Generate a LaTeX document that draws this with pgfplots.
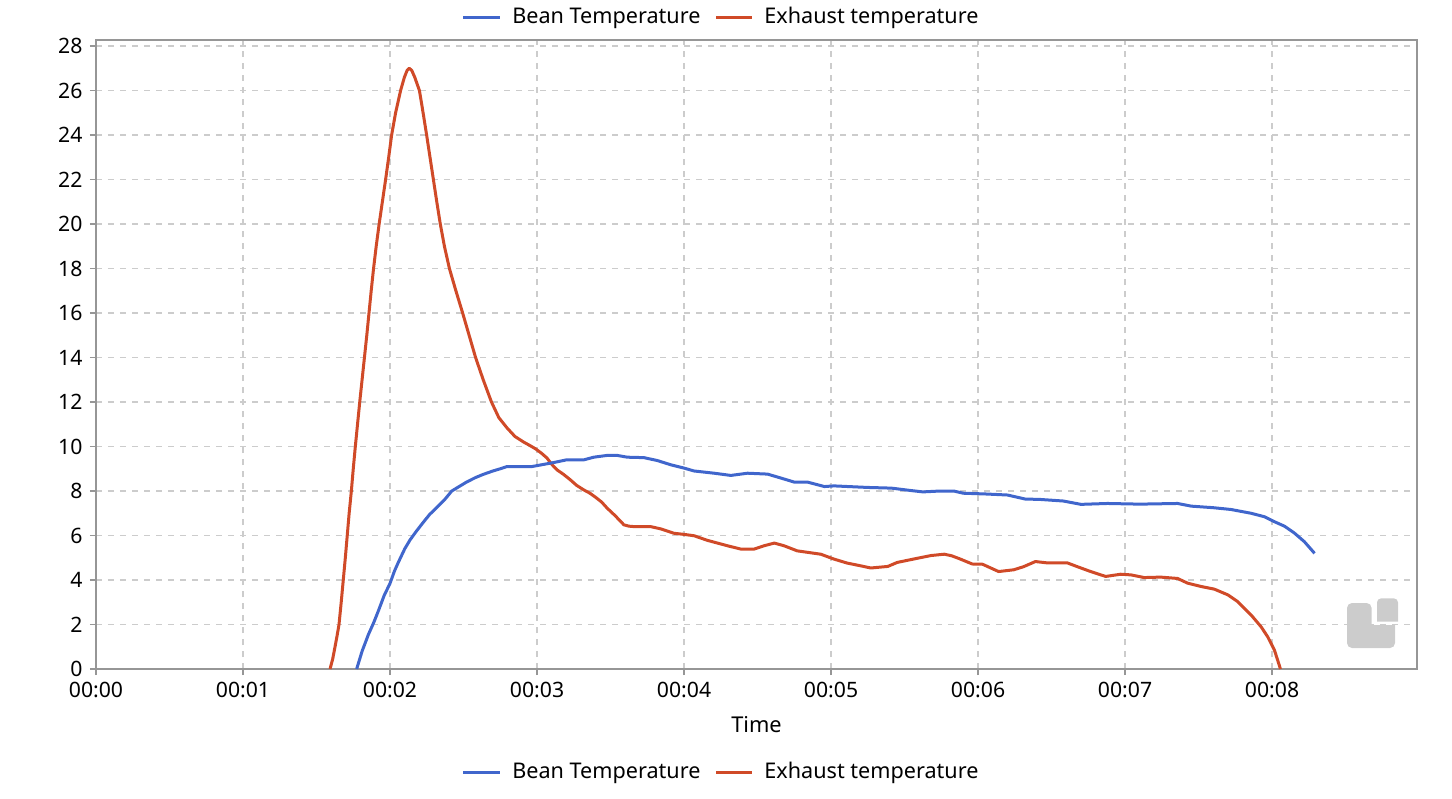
\documentclass[border=0pt]{standalone}
\usepackage{pgfplots}
\pgfplotsset{compat=1.18}
\usepackage{fontspec}
\setmainfont{Noto Sans}
\definecolor{bean}{RGB}{64,102,204}
\definecolor{exh}{RGB}{208,74,40}
\definecolor{gridc}{RGB}{204,204,204}
\definecolor{axc}{RGB}{150,150,150}
\begin{document}
\fontsize{10.8bp}{13bp}\selectfont
\begin{tikzpicture}[x=1bp,y=1bp]
\begin{axis}[
  at={(0,0)}, anchor=south west,
  scale only axis, width=660.5bp, height=314.5bp,
  xmin=0, xmax=8.986, ymin=0, ymax=28.27,
  xtick={0,1,2,3,4,5,6,7,8},
  xticklabels={00:00,00:01,00:02,00:03,00:04,00:05,00:06,00:07,00:08},
  ytick={0,2,...,28},
  /pgf/number format/assume math mode=true,
  tick pos=left, tick align=outside, major tick length=3bp,
  tick style={color=axc, line width=0.7bp},
  grid=major,
  grid style={dash pattern=on 3bp off 3bp, color=gridc, line width=0.6bp},
  axis line style={color=axc, line width=0.8bp},
  ticklabel style={font=\fontsize{10.6bp}{12.6bp}\selectfont, text=black},
  xlabel={Time},
  xlabel style={at={(axis description cs:0.5,0)}, anchor=base, yshift=-31.5bp, font=\fontsize{10.9bp}{13bp}\selectfont},
  clip=true,
]
\addplot[exh, line width=1.5bp, line join=round] coordinates {
(1.592,0) (1.61,0.45) (1.626,1.0) (1.64,1.5) (1.653,2.0) (1.668,3.0) (1.682,4.0) (1.696,5.0) (1.709,6.0) (1.722,7.0) (1.737,8.0) (1.75,9.0) (1.764,10.0) (1.779,11.0) (1.794,12.0) (1.81,13.0) (1.826,14.0) (1.842,15.0) (1.857,16.0) (1.872,17.0) (1.888,18.0) (1.906,19.0) (1.926,20.0) (1.948,21.0) (1.97,22.0) (1.991,23.0) (2.011,24.0) (2.038,25.0) (2.072,26.0) (2.098,26.6) (2.116,26.9) (2.131,27.0) (2.148,26.9) (2.168,26.6) (2.2,26.0) (2.225,25.0) (2.249,24.0) (2.272,23.0) (2.295,22.0) (2.318,21.0) (2.342,20.0) (2.37,19.0) (2.404,18.0) (2.448,17.0) (2.494,16.0) (2.538,15.0) (2.582,14.0) (2.634,13.0) (2.69,12.0) (2.74,11.3) (2.794,10.85) (2.85,10.45) (2.909,10.2) (2.95,10.05) (2.989,9.9) (3.03,9.7) (3.068,9.48) (3.1,9.2) (3.136,8.95) (3.18,8.75) (3.227,8.5) (3.27,8.25) (3.318,8.05) (3.36,7.9) (3.398,7.72) (3.44,7.5) (3.477,7.23) (3.53,6.9) (3.591,6.48) (3.625,6.42) (3.66,6.4) (3.773,6.4) (3.84,6.3) (3.932,6.1) (4.0,6.05) (4.068,5.99) (4.16,5.78) (4.295,5.54) (4.386,5.39) (4.477,5.39) (4.545,5.54) (4.614,5.66) (4.68,5.54) (4.77,5.31) (4.93,5.16) (5.02,4.94) (5.11,4.76) (5.2,4.64) (5.27,4.54) (5.386,4.61) (5.45,4.79) (5.56,4.94) (5.68,5.1) (5.77,5.16) (5.82,5.09) (5.88,4.94) (5.96,4.72) (6.03,4.71) (6.14,4.38) (6.243,4.46) (6.31,4.6) (6.39,4.83) (6.47,4.77) (6.607,4.77) (6.675,4.6) (6.766,4.38) (6.868,4.16) (6.97,4.26) (7.04,4.23) (7.13,4.11) (7.243,4.13) (7.357,4.07) (7.425,3.86) (7.516,3.71) (7.607,3.59) (7.7,3.33) (7.766,3.03) (7.857,2.43) (7.925,1.9) (7.97,1.45) (8.016,0.85) (8.057,0.0)
};
\addplot[bean, line width=1.5bp, line join=round] coordinates {
(1.773,0) (1.81,0.8) (1.853,1.55) (1.89,2.1) (1.92,2.6) (1.96,3.3) (2.0,3.85) (2.03,4.4) (2.057,4.8) (2.1,5.4) (2.136,5.8) (2.18,6.2) (2.227,6.6) (2.27,6.95) (2.317,7.25) (2.37,7.6) (2.42,8.0) (2.47,8.2) (2.52,8.4) (2.58,8.6) (2.635,8.75) (2.7,8.9) (2.75,9.0) (2.795,9.1) (2.966,9.1) (3.114,9.28) (3.2,9.4) (3.318,9.4) (3.386,9.52) (3.477,9.6) (3.545,9.6) (3.614,9.52) (3.727,9.5) (3.818,9.37) (3.909,9.18) (4.0,9.03) (4.068,8.9) (4.205,8.8) (4.318,8.7) (4.432,8.8) (4.568,8.76) (4.66,8.58) (4.75,8.4) (4.84,8.4) (4.955,8.2) (5.02,8.23) (5.25,8.16) (5.41,8.13) (5.545,8.02) (5.625,7.96) (5.743,8.0) (5.834,8.0) (5.9,7.9) (6.04,7.87) (6.2,7.82) (6.32,7.64) (6.425,7.62) (6.58,7.55) (6.7,7.4) (6.88,7.44) (7.1,7.41) (7.357,7.44) (7.45,7.32) (7.6,7.25) (7.72,7.17) (7.857,7.0) (7.95,6.84) (8.016,6.62) (8.084,6.42) (8.15,6.12) (8.22,5.72) (8.289,5.2)
};
\end{axis}
% watermark logo
\fill[black!20, rounded corners=2.5bp] (625.5,10.5) -- (625.5,33) -- (637.8,33) [sharp corners] -- (637.8,22) -- (649.5,22) [rounded corners=2.5bp] -- (649.5,10.5) -- cycle;
\fill[black!20, rounded corners=2bp] (640.5,23.7) -- (640.5,35.3) -- (651,35.3) [sharp corners] -- (651,23.7) -- cycle;
% top legend
\draw[bean, line width=1.5bp] (183.5,326) -- (202,326);
\node[anchor=base west, inner sep=0] at (208,322.9) {Bean Temperature};
\draw[exh, line width=1.5bp] (310,326) -- (328,326);
\node[anchor=base west, inner sep=0] at (334,322.9) {Exhaust temperature};
% bottom legend
\draw[bean, line width=1.5bp] (183.5,-51.5) -- (202,-51.5);
\node[anchor=base west, inner sep=0] at (208,-54.9) {Bean Temperature};
\draw[exh, line width=1.5bp] (310,-51.5) -- (328,-51.5);
\node[anchor=base west, inner sep=0] at (334,-54.9) {Exhaust temperature};
\pgfresetboundingbox
\useasboundingbox (-48,-64.5) rectangle (678,334.5);
\end{tikzpicture}
\end{document}
